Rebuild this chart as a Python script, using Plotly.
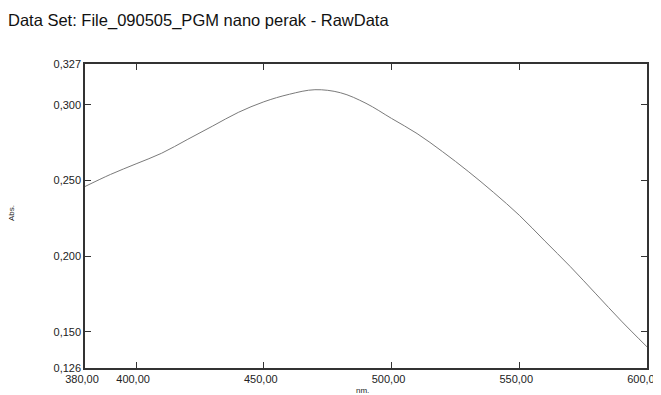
import plotly.graph_objects as go

wavelength_nm = [380, 390, 400, 410, 420, 430, 440, 450, 460, 470, 480, 490,
                 500, 510, 520, 530, 540, 550, 560, 570, 580, 590, 600]
absorbance = [0.246, 0.254, 0.261, 0.268, 0.277, 0.286, 0.295, 0.302, 0.307,
              0.310, 0.308, 0.301, 0.291, 0.281, 0.269, 0.256, 0.242, 0.227,
              0.210, 0.193, 0.175, 0.157, 0.140]

x_tickvals = [380, 400, 450, 500, 550, 600]
x_ticktext = ["380,00", "400,00", "450,00", "500,00", "550,00", "600,00"]
y_tickvals = [0.126, 0.150, 0.200, 0.250, 0.300, 0.327]
y_ticktext = ["0,126", "0,150", "0,200", "0,250", "0,300", "0,327"]

title_text = "Data Set: File_090505_PGM nano perak - RawData"

fig = go.Figure()
fig.add_trace(go.Scatter(
    x=wavelength_nm, y=absorbance, mode="lines",
    line=dict(color="#7a7a7a", width=1, shape="spline", smoothing=1.0),
    showlegend=False, hoverinfo="skip"))

font_family = "Liberation Sans, Arial, sans-serif"

fig.update_layout(
    width=653, height=387,
    margin=dict(l=77, r=14, t=56, b=27, pad=0),
    paper_bgcolor="white", plot_bgcolor="white",
    font=dict(family=font_family, color="#222"),
    title=dict(text=title_text, xref="container", yref="container",
               x=0, y=1-12/387, xanchor="left", yanchor="middle",
               pad=dict(l=0, r=0, t=0, b=0),
               font=dict(size=16.5, family=font_family, color="#111")),
    xaxis=dict(range=[380, 600], tickvals=x_tickvals, ticktext=x_ticktext,
               ticks="inside", ticklen=6, tickwidth=1, tickcolor="#333",
               showline=True, linecolor="#333", linewidth=1.5, mirror="ticks",
               showgrid=False, zeroline=False, ticklabelshift=-3,
               ticklabeloverflow="allow", automargin=False,
               tickfont=dict(size=11, color="#222")),
    yaxis=dict(range=[0.126, 0.327], tickvals=y_tickvals, ticktext=y_ticktext,
               ticks="inside", ticklen=6, tickwidth=1, tickcolor="#333",
               showline=True, linecolor="#333", linewidth=1.5, mirror="ticks",
               showgrid=False, zeroline=False, automargin=False,
               tickfont=dict(size=11, color="#222")),
    annotations=[
        dict(text="Abs.", xref="paper", yref="paper", x=(3.5-77)/562, y=0.508,
             xanchor="center", yanchor="middle", textangle=-90,
             showarrow=False, font=dict(size=8, color="#222")),
        dict(text="nm.", xref="paper", yref="paper", x=(354-77)/562, y=-22/304,
             xanchor="center", yanchor="middle",
             showarrow=False, font=dict(size=8, color="#222")),
    ],
)

fig.write_html("out.html")
